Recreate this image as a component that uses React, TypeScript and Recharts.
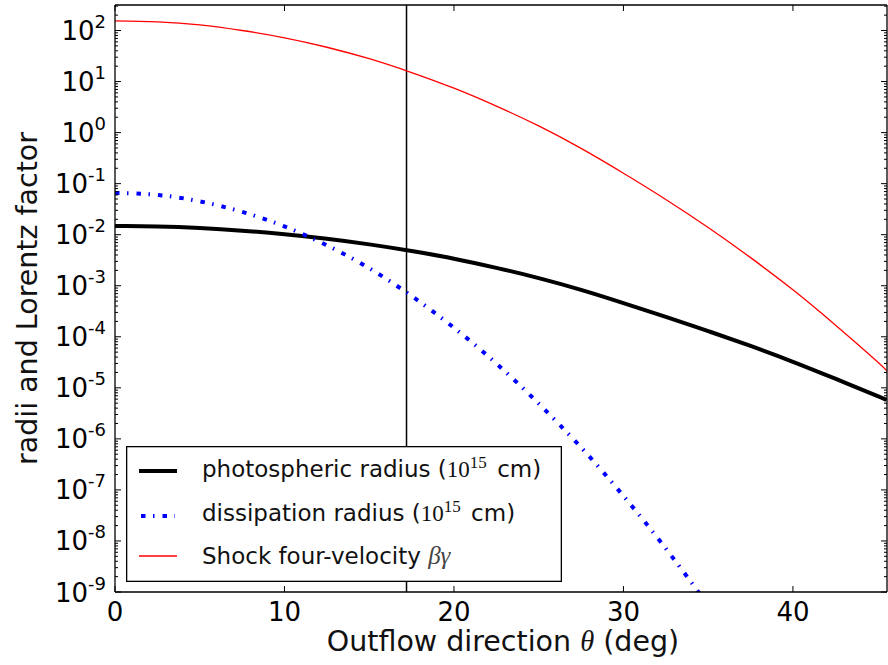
import { LineChart, Line, XAxis, YAxis, ReferenceLine, Legend, Label } from 'recharts';

// outflow angle grid (deg)
const thetaDeg = [0, 2.5, 5, 7.5, 10, 12.5, 15, 17.5, 20, 22.5, 25, 27.5, 30, 32.5, 35, 37.5, 40, 42.5, 45, 45.55];

// photospheric radius, units of 1e15 cm
const photosphericRadius = [
  0.0148, 0.01445, 0.0135, 0.012, 0.0102, 0.00832, 0.00646, 0.00479, 0.00339, 0.00224,
  0.00141, 8.3e-4, 4.57e-4, 2.45e-4, 1.29e-4, 6.6e-5, 3.24e-5, 1.51e-5, 6.9e-6, 5.75e-6,
];

// dissipation radius, units of 1e15 cm (drops off the bottom after ~35 deg)
const dissipationRadius = [
  0.066, 0.06, 0.045, 0.028, 0.0145, 0.0062, 0.0022, 6.3e-4, 1.5e-4, 3.0e-5,
  4.9e-6, 6.8e-7, 7.6e-8, 7.1e-9, 5.5e-10,
];

// shock four-velocity beta*gamma
const shockFourVelocity = [
  155, 148, 129, 100, 72, 47, 28, 15, 7.4, 3.3,
  1.35, 0.49, 0.16, 0.049, 0.0138, 3.55e-3, 8.3e-4, 1.7e-4, 3.2e-5, 2.1e-5,
];

const xTicks = [0, 10, 20, 30, 40];
const decadeExponents = [-9, -8, -7, -6, -5, -4, -3, -2, -1, 0, 1, 2];
const jetEdgeDeg = 17.2;

const X_MAX = 45.55;
const Y_MIN = 1e-9;
const Y_MAX = 316;

const FONT = '"DejaVu Sans", sans-serif';
const MATH = '"Liberation Serif", "DejaVu Serif", serif';

const yTicks = decadeExponents
  .flatMap((e) => [1, 2, 3, 4, 5, 6, 7, 8, 9].map((m) => m * Math.pow(10, e)))
  .filter((v) => v <= Y_MAX);

const data = thetaDeg.map((theta, i) => ({
  theta,
  photo: photosphericRadius[i],
  diss: i < dissipationRadius.length ? dissipationRadius[i] : null,
  shock: shockFourVelocity[i],
}));

const isDecade = (v: number) => {
  const l = Math.log10(v);
  return Math.abs(l - Math.round(l)) < 1e-6;
};

function BottomTick({ x, y, payload }: any) {
  return (
    <g>
      <line x1={x} x2={x} y1={y} y2={y - 6} stroke="#000" strokeWidth={1} />
      <text x={x} y={y + 29} textAnchor="middle" fontFamily={FONT} fontSize={26} fill="#000">
        {payload.value}
      </text>
    </g>
  );
}

function TopTick({ x, y }: any) {
  return <line x1={x} x2={x} y1={y} y2={y + 6} stroke="#000" strokeWidth={1} />;
}

function LeftTick({ x, y, payload }: any) {
  const v = payload.value;
  const major = isDecade(v);
  return (
    <g>
      <line x1={x} x2={x + (major ? 6 : 3)} y1={y} y2={y} stroke="#000" strokeWidth={1} />
      {major && (
        <text x={x - 9} y={y + 9.5} textAnchor="end" fontFamily={FONT} fontSize={26} fill="#000">
          10
          <tspan dy={-12} fontSize={18}>
            {Math.round(Math.log10(v))}
          </tspan>
        </text>
      )}
    </g>
  );
}

function RightTick({ x, y, payload }: any) {
  const major = isDecade(payload.value);
  return <line x1={x} x2={x - (major ? 6 : 3)} y1={y} y2={y} stroke="#000" strokeWidth={1} />;
}

// "(10^15 cm)" unit tail used by the two radius entries
function UnitTail() {
  return (
    <>
      <tspan fontFamily={MATH}>10</tspan>
      <tspan fontFamily={MATH} fontSize={17} dy={-9}>
        15
      </tspan>
      <tspan dx={3} dy={9}>
        {' cm)'}
      </tspan>
    </>
  );
}

function LegendBox() {
  const textProps = { fontFamily: FONT, fontSize: 23, fill: '#111' };
  return (
    <svg width={436} height={136} style={{ display: 'block' }}>
      <rect x={0.65} y={0.65} width={434.7} height={134.7} fill="#fff" stroke="#000" strokeWidth={1.3} />
      <line x1={13} x2={51} y1={25} y2={25} stroke="#000" strokeWidth={4} />
      <text x={76} y={31} {...textProps}>
        {'photospheric radius ('}
        <UnitTail />
      </text>
      <line x1={15} x2={49} y1={70} y2={70} stroke="#0000ff" strokeWidth={4} strokeDasharray="4.5 7.5 1.5 8" />
      <text x={76} y={75} {...textProps}>
        {'dissipation radius ('}
        <UnitTail />
      </text>
      <line x1={13} x2={51} y1={110} y2={110} stroke="#ff0000" strokeWidth={1.3} />
      <text x={76} y={118} {...textProps}>
        {'Shock four-velocity '}
        <tspan fontFamily={MATH} fontSize={25} fontStyle="italic" fill="#444">
          βγ
        </tspan>
      </text>
    </svg>
  );
}

export default function App() {
  return (
    <div style={{ position: 'absolute', left: 0, top: 0, width: 888, height: 665, background: '#fff' }}>
      <LineChart width={888} height={665} data={data} margin={{ top: 0, right: 0, bottom: 0, left: 0 }}>
        <XAxis
          xAxisId="bottom"
          dataKey="theta"
          type="number"
          domain={[0, X_MAX]}
          ticks={xTicks}
          interval={0}
          allowDataOverflow
          height={73}
          tickSize={0}
          tickMargin={0}
          tickLine={false}
          axisLine={{ stroke: '#000', strokeWidth: 1.3 }}
          tick={<BottomTick />}
        >
          <Label
            content={() => (
              <text x={503} y={651} textAnchor="middle" fontFamily={FONT} fontSize={28.5} fill="#111">
                Outflow direction <tspan fontFamily={MATH} fontStyle="italic">θ</tspan> (deg)
              </text>
            )}
          />
        </XAxis>
        <XAxis
          xAxisId="top"
          orientation="top"
          dataKey="theta"
          type="number"
          domain={[0, X_MAX]}
          ticks={xTicks}
          interval={0}
          allowDataOverflow
          height={5}
          tickSize={0}
          tickMargin={0}
          tickLine={false}
          axisLine={{ stroke: '#000', strokeWidth: 1.3 }}
          tick={<TopTick />}
        />
        <YAxis
          yAxisId="left"
          scale="log"
          type="number"
          domain={[Y_MIN, Y_MAX]}
          ticks={yTicks}
          interval={0}
          allowDataOverflow
          width={115}
          tickSize={0}
          tickMargin={0}
          tickLine={false}
          axisLine={{ stroke: '#000', strokeWidth: 1.3 }}
          tick={<LeftTick />}
        >
          <Label
            content={() => (
              <text
                x={37}
                y={298.5}
                transform="rotate(-90, 37, 298.5)"
                textAnchor="middle"
                fontFamily={FONT}
                fontSize={28.5}
                fill="#111"
              >
                radii and Lorentz factor
              </text>
            )}
          />
        </YAxis>
        <YAxis
          yAxisId="right"
          orientation="right"
          scale="log"
          type="number"
          domain={[Y_MIN, Y_MAX]}
          ticks={yTicks}
          interval={0}
          allowDataOverflow
          width={1}
          tickSize={0}
          tickMargin={0}
          tickLine={false}
          axisLine={{ stroke: '#000', strokeWidth: 1.3 }}
          tick={<RightTick />}
        />
        <ReferenceLine xAxisId="bottom" yAxisId="left" x={jetEdgeDeg} stroke="#000" strokeWidth={1.5} />
        <Line
          xAxisId="bottom"
          yAxisId="left"
          type="natural"
          dataKey="photo"
          stroke="#000"
          strokeWidth={4}
          dot={false}
          isAnimationActive={false}
        />
        <Line
          xAxisId="bottom"
          yAxisId="left"
          type="natural"
          dataKey="diss"
          stroke="#0000ff"
          strokeWidth={4}
          strokeDasharray="4.5 7.5 1.5 8"
          dot={false}
          isAnimationActive={false}
        />
        <Line
          xAxisId="bottom"
          yAxisId="left"
          type="natural"
          dataKey="shock"
          stroke="#ff0000"
          strokeWidth={1.3}
          dot={false}
          isAnimationActive={false}
        />
        <Legend
          layout="vertical"
          align="center"
          verticalAlign="middle"
          content={() => <LegendBox />}
          wrapperStyle={{ left: 126, top: 446, width: 436, height: 136 }}
        />
      </LineChart>
    </div>
  );
}
